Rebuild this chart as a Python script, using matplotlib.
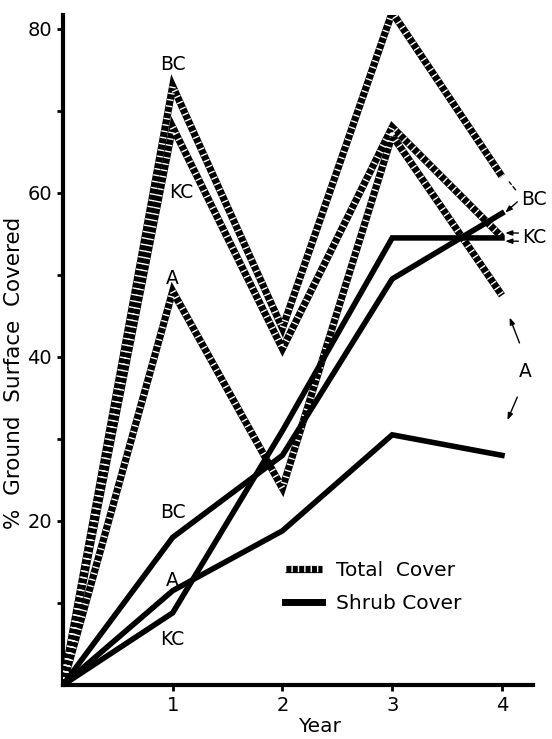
import matplotlib
matplotlib.use("Agg")
import matplotlib.pyplot as plt
from matplotlib.lines import Line2D

plt.rcParams['font.family'] = ['DejaVu Sans']
plt.rcParams['lines.scale_dashes'] = False

years = [0, 1, 2, 3, 4]

# total cover (hatched lines)
total_bc = [0, 73, 43.5, 82, 62]
total_kc = [0, 68, 41, 68, 54.6]
total_a = [0, 48, 24, 67, 47.5]

# shrub cover (solid lines)
shrub_bc = [0, 18, 28, 49.5, 57.5]
shrub_kc = [0, 8.8, 31, 54.5, 54.5]
shrub_a = [0, 11.5, 18.8, 30.5, 28]

yticks_major = [20, 40, 60, 80]
yticks_minor = [10, 30, 50, 70]
xticks = [1, 2, 3, 4]

fig = plt.figure(figsize=(5.52, 7.39), dpi=100)
ax = fig.add_axes([0.114, 0.073, 0.851, 0.907])

HATCH = (1.0, 3.6)


def hatched(x, y):
    ax.plot(x, y, color='black', lw=5.2, solid_capstyle='butt', solid_joinstyle='miter', zorder=3)
    ax.plot(x, y, color='white', lw=4.6, dashes=HATCH, dash_capstyle='butt', zorder=4)


for tot in (total_bc, total_kc, total_a):
    hatched(years, tot)

for sh in (shrub_bc, shrub_kc, shrub_a):
    ax.plot(years, sh, color='black', lw=4, solid_joinstyle='miter', zorder=5)

# curve labels
lab = dict(fontsize=13.5, ha='center', va='center')
ax.text(1.0, 75.6, 'BC', **lab)
ax.text(1.08, 60.0, 'KC', **lab)
ax.text(1.0, 49.6, 'A', **lab)
ax.text(1.0, 21.0, 'BC', **lab)
ax.text(1.0, 12.8, 'A', **lab)
ax.text(1.0, 5.5, 'KC', **lab)

# right-side labels with leaders
ax.text(4.29, 59.2, 'BC', fontsize=13.5, ha='center', va='center', clip_on=False)
ax.text(4.29, 54.6, 'KC', fontsize=13.5, ha='center', va='center', clip_on=False)
ax.text(4.21, 38.2, 'A', fontsize=13.5, ha='center', va='center', clip_on=False)

ax.annotate('', xy=(4.05, 61.6), xytext=(4.14, 60.1),
            arrowprops=dict(arrowstyle='-', lw=1, ls=(0, (3, 2)), color='black'))
arw = dict(arrowstyle='-|>,head_length=0.4,head_width=0.15', lw=1, color='black', shrinkA=0, shrinkB=0)
ax.annotate('', xy=(4.03, 57.6), xytext=(4.14, 58.9), arrowprops=arw)
ax.annotate('', xy=(4.03, 55.1), xytext=(4.15, 55.1), arrowprops=arw)
ax.annotate('', xy=(4.03, 54.1), xytext=(4.15, 54.1), arrowprops=arw)
ax.annotate('', xy=(4.07, 44.8), xytext=(4.16, 41.7), arrowprops=arw)
ax.annotate('', xy=(4.05, 32.3), xytext=(4.14, 35.1), arrowprops=arw)

# legend
h_tot = (Line2D([], [], color='black', lw=5.2, solid_capstyle='butt'),
         Line2D([], [], color='white', lw=4.6, dashes=HATCH))
h_shr = Line2D([], [], color='black', lw=5)
ax.legend([h_tot, h_shr], ['Total  Cover', 'Shrub Cover'], loc='center left',
          bbox_to_anchor=(0.435, 0.146), frameon=False, fontsize=14.5,
          handlelength=1.8, handletextpad=0.7, labelspacing=0.7)

ax.set_xlim(0, 4.28)
ax.set_ylim(0, 81.7)
ax.set_xticks(xticks)
ax.set_yticks(yticks_major)
ax.set_yticks(yticks_minor, minor=True)
ax.tick_params(axis='both', which='both', direction='out', length=4.5, width=2, labelsize=14)
ax.tick_params(axis='y', which='minor', labelleft=False)

for s in ('top', 'right'):
    ax.spines[s].set_visible(False)
for s in ('left', 'bottom'):
    ax.spines[s].set_linewidth(3)

ax.set_xlabel('Year', fontsize=14.5)
ax.xaxis.set_label_coords(0.547, -0.048)
ax.set_ylabel('%  Ground  Surface  Covered', fontsize=15.5)
ax.yaxis.set_label_coords(-0.083, 0.466)

fig.savefig('out.png', dpi=100)
